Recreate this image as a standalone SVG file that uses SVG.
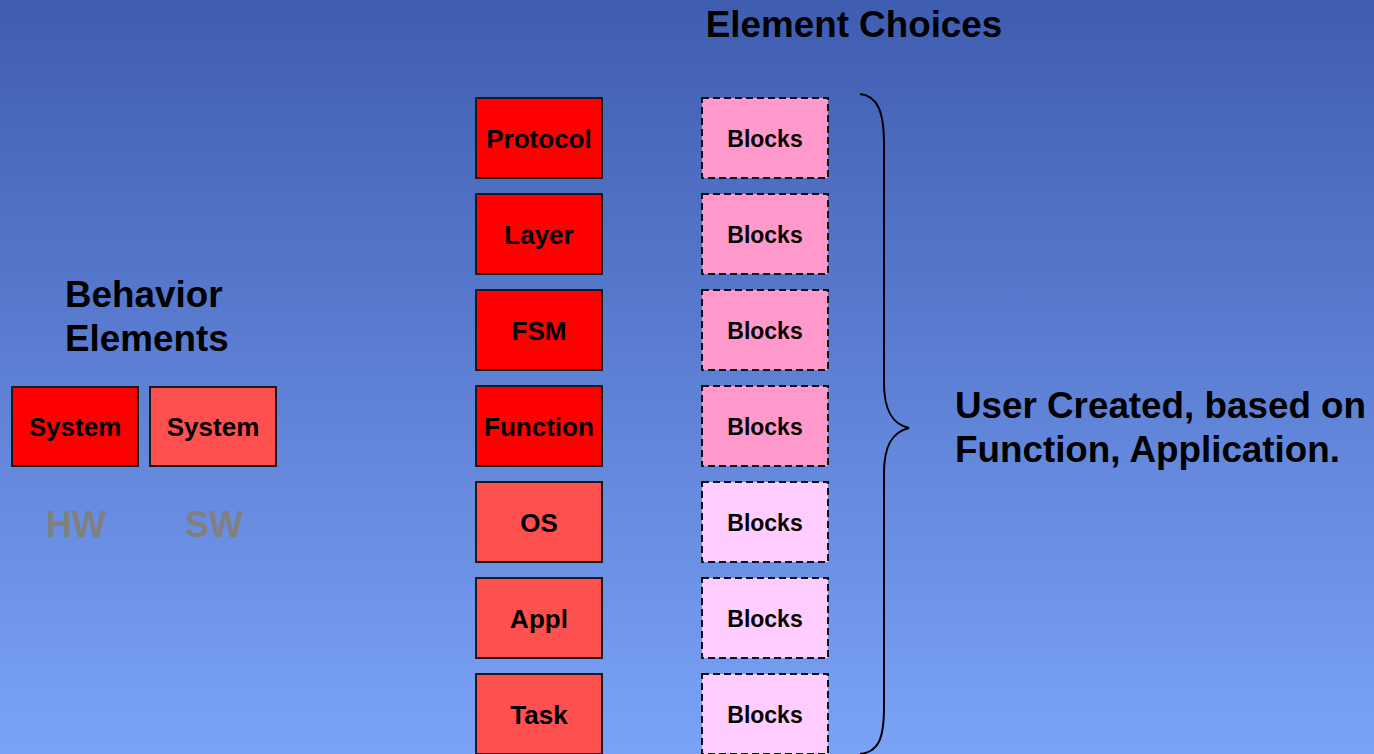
<svg xmlns="http://www.w3.org/2000/svg" width="1374" height="754" viewBox="0 0 1374 754">
  <defs>
    <linearGradient id="bg" x1="0" y1="0" x2="0" y2="1">
      <stop offset="0" stop-color="#3f5db0"/>
      <stop offset="1" stop-color="#7aa3f8"/>
    </linearGradient>
  </defs>
  <style>
    text { font-family: "Liberation Sans", Arial, sans-serif; font-weight: bold; fill: #000; text-anchor: middle; }
    .title { font-size: 36.8px; }
    .note { font-size: 36.8px; text-anchor: start; }
    .tag { font-size: 36px; fill: #808080; }
    .lbl { font-size: 26px; }
    .blk { font-size: 23px; }
    .red { fill: #ff0000; stroke: #1a1a1a; stroke-width: 2; }
    .soft { fill: #ff5050; stroke: #1a1a1a; stroke-width: 2; }
    .pink { fill: #ff99cc; stroke: #111; stroke-width: 2; stroke-dasharray: 7 4; }
    .lilac { fill: #ffccff; stroke: #111; stroke-width: 2; stroke-dasharray: 7 4; }
    .brace { fill: none; stroke: #000; stroke-width: 2; }
  </style>

  <rect x="0" y="0" width="1374" height="754" fill="url(#bg)"/>

  <text class="title" x="854" y="37">Element Choices</text>

  <g id="behavior-title">
    <text class="note" x="65" y="307">Behavior</text>
    <text class="note" x="65" y="351">Elements</text>
  </g>

  <g id="system-hw">
    <rect class="red" x="12" y="387" width="126" height="79"/>
    <text class="lbl" x="75" y="436">System</text>
  </g>
  <g id="system-sw">
    <rect class="soft" x="150" y="387" width="126" height="79"/>
    <text class="lbl" x="213" y="436">System</text>
  </g>
  <text class="tag" x="76" y="537">HW</text>
  <text class="tag" x="214" y="537">SW</text>

  <!-- element column -->
  <g id="protocol">
    <rect class="red" x="476" y="98" width="126" height="80"/>
    <text class="lbl" x="539" y="148">Protocol</text>
  </g>
  <g id="layer">
    <rect class="red" x="476" y="194" width="126" height="80"/>
    <text class="lbl" x="539" y="244">Layer</text>
  </g>
  <g id="fsm">
    <rect class="red" x="476" y="290" width="126" height="80"/>
    <text class="lbl" x="539" y="340">FSM</text>
  </g>
  <g id="function">
    <rect class="red" x="476" y="386" width="126" height="80"/>
    <text class="lbl" x="539" y="436">Function</text>
  </g>
  <g id="os">
    <rect class="soft" x="476" y="482" width="126" height="80"/>
    <text class="lbl" x="539" y="532">OS</text>
  </g>
  <g id="appl">
    <rect class="soft" x="476" y="578" width="126" height="80"/>
    <text class="lbl" x="539" y="628">Appl</text>
  </g>
  <g id="task">
    <rect class="soft" x="476" y="674" width="126" height="80"/>
    <text class="lbl" x="539" y="724">Task</text>
  </g>

  <!-- user-created blocks column -->
  <g id="blocks-1">
    <rect class="pink" x="702" y="98" width="126" height="80"/>
    <text class="blk" x="765" y="147">Blocks</text>
  </g>
  <g id="blocks-2">
    <rect class="pink" x="702" y="194" width="126" height="80"/>
    <text class="blk" x="765" y="243">Blocks</text>
  </g>
  <g id="blocks-3">
    <rect class="pink" x="702" y="290" width="126" height="80"/>
    <text class="blk" x="765" y="339">Blocks</text>
  </g>
  <g id="blocks-4">
    <rect class="pink" x="702" y="386" width="126" height="80"/>
    <text class="blk" x="765" y="435">Blocks</text>
  </g>
  <g id="blocks-5">
    <rect class="lilac" x="702" y="482" width="126" height="80"/>
    <text class="blk" x="765" y="531">Blocks</text>
  </g>
  <g id="blocks-6">
    <rect class="lilac" x="702" y="578" width="126" height="80"/>
    <text class="blk" x="765" y="627">Blocks</text>
  </g>
  <g id="blocks-7">
    <rect class="lilac" x="702" y="674" width="126" height="80"/>
    <text class="blk" x="765" y="723">Blocks</text>
  </g>

  <g id="connectors">
    <path class="brace" d="M860 94 C878 96 884 112 884 145 L884 383 C884 410 892 424 909 428 C892 432 884 446 884 473 L884 707 C884 740 878 752 860 754"/>
  </g>

  <g id="user-note">
    <text class="note" x="955" y="418">User Created, based on</text>
    <text class="note" x="955" y="462">Function, Application.</text>
  </g>
</svg>
